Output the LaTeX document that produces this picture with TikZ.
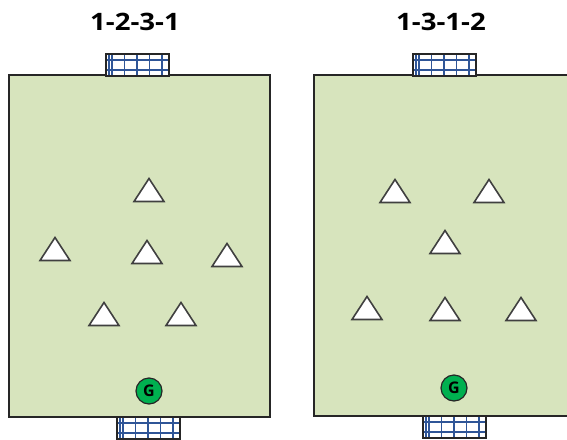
\documentclass[tikz,border=0pt]{standalone}
\usepackage{fontspec}
\setmainfont{Open Sans}
\begin{document}
\begin{tikzpicture}[x=1pt,y=-1pt,
  field/.style={draw=black!85,line width=1.6pt,fill=fieldgreen},
  gridline/.style={draw=netblue,line width=1.1pt},
  cone/.style={draw=black!75,line width=1.6pt,fill=white,line join=miter},
  keeper/.style={circle,draw=black!85,line width=1.2pt,fill=keepgreen,minimum size=26pt,inner sep=0pt,font=\fontsize{16}{16}\selectfont\bfseries},
  title/.style={font=\fontsize{24}{24}\selectfont\bfseries,inner sep=0pt}]
\definecolor{fieldgreen}{HTML}{D7E4BD}
\definecolor{keepgreen}{HTML}{00B050}
\definecolor{netblue}{HTML}{2F5597}
\useasboundingbox (0,0) rectangle (567,439);
% titles
\node[title] (t1) at (135,22) {\scalebox{1.15}[1]{1-2-3-1}};
\node[title] (t2) at (441,22) {\scalebox{1.15}[1]{1-3-1-2}};
% fields
\begin{scope}
\clip (0,0) rectangle (567,439);
\draw[field] (9,75) rectangle (270,417);
\draw[field] (314,75) rectangle (580,416);
\end{scope}
% goals
\newcommand{\goalat}[2]{%
  \begin{scope}[shift={(#1,#2)}]
    \fill[white] (0,0) rectangle (63,22);
    \foreach \gx in {3,6,18.5,31,43.5,56} \draw[gridline] (\gx,0) -- (\gx,22);
    \foreach \gy in {6,16} \draw[gridline] (0,\gy) -- (63,\gy);
    \draw[draw=black!85,line width=1.2pt] (0,0) rectangle (63,22);
  \end{scope}}
\goalat{106}{54}
\goalat{117}{417}
\goalat{413}{54}
\goalat{423}{416}
% cones
\newcommand{\cone}[2]{\draw[cone] (#1-15,#2+11.5) -- (#1,#2-11.5) -- (#1+15,#2+11.5) -- cycle;}
\cone{149}{190}
\cone{55}{249}
\cone{147}{252}
\cone{227}{255}
\cone{104}{314}
\cone{181}{314}
\cone{395}{191}
\cone{489}{191}
\cone{445}{242}
\cone{367}{308}
\cone{445}{309}
\cone{521}{309}
% keepers
\node[keeper] (g1) at (149,391) {G};
\node[keeper] (g2) at (454,388) {G};
\end{tikzpicture}
\end{document}
